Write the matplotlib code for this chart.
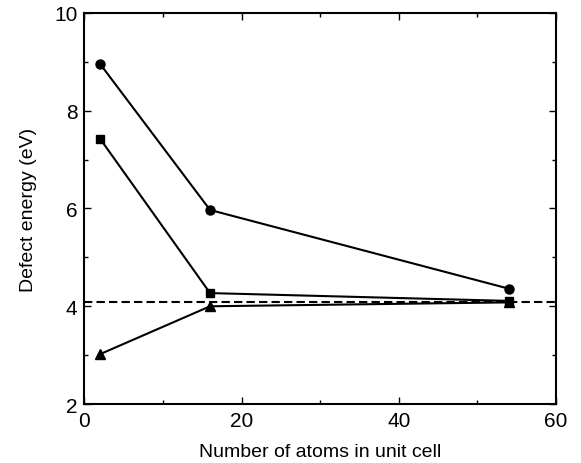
import matplotlib
matplotlib.use('Agg')
import matplotlib.pyplot as plt
from matplotlib.ticker import MultipleLocator

plt.rcParams['font.family'] = ['Liberation Sans', 'DejaVu Sans']

# atoms in unit cell
n_atoms = [2, 16, 54]
# defect energies (eV)
circle_vals = [8.96, 5.97, 4.36]
square_vals = [7.43, 4.27, 4.11]
triangle_vals = [3.02, 4.0, 4.08]
reference_level = 4.08

fig = plt.figure(figsize=(5.81, 4.64), dpi=100)
ax = fig.add_axes([0.145, 0.127, 0.812, 0.843])

ax.axhline(reference_level, color='black', linestyle='--', linewidth=1.5, dashes=(4, 2))
ax.plot(n_atoms, circle_vals, '-o', color='black', markersize=6.5, linewidth=1.5)
ax.plot(n_atoms, square_vals, '-s', color='black', markersize=6, linewidth=1.5)
ax.plot(n_atoms, triangle_vals, '-^', color='black', markersize=7, linewidth=1.5)

ax.set_xlim(0, 60)
ax.set_ylim(2, 10)
ax.xaxis.set_major_locator(MultipleLocator(20))
ax.xaxis.set_minor_locator(MultipleLocator(10))
ax.yaxis.set_major_locator(MultipleLocator(2))
ax.yaxis.set_minor_locator(MultipleLocator(1))
ax.tick_params(which='both', direction='in', top=True, right=True, labelsize=15)
ax.tick_params(which='major', length=5, width=1, pad=5)
ax.tick_params(which='minor', length=3, width=1)
for s in ax.spines.values():
    s.set_linewidth(1.5)

ax.set_xlabel('Number of atoms in unit cell', fontsize=14, labelpad=9)
ax.set_ylabel('Defect energy (eV)', fontsize=14, labelpad=12)

fig.savefig('out.png', dpi=100)
